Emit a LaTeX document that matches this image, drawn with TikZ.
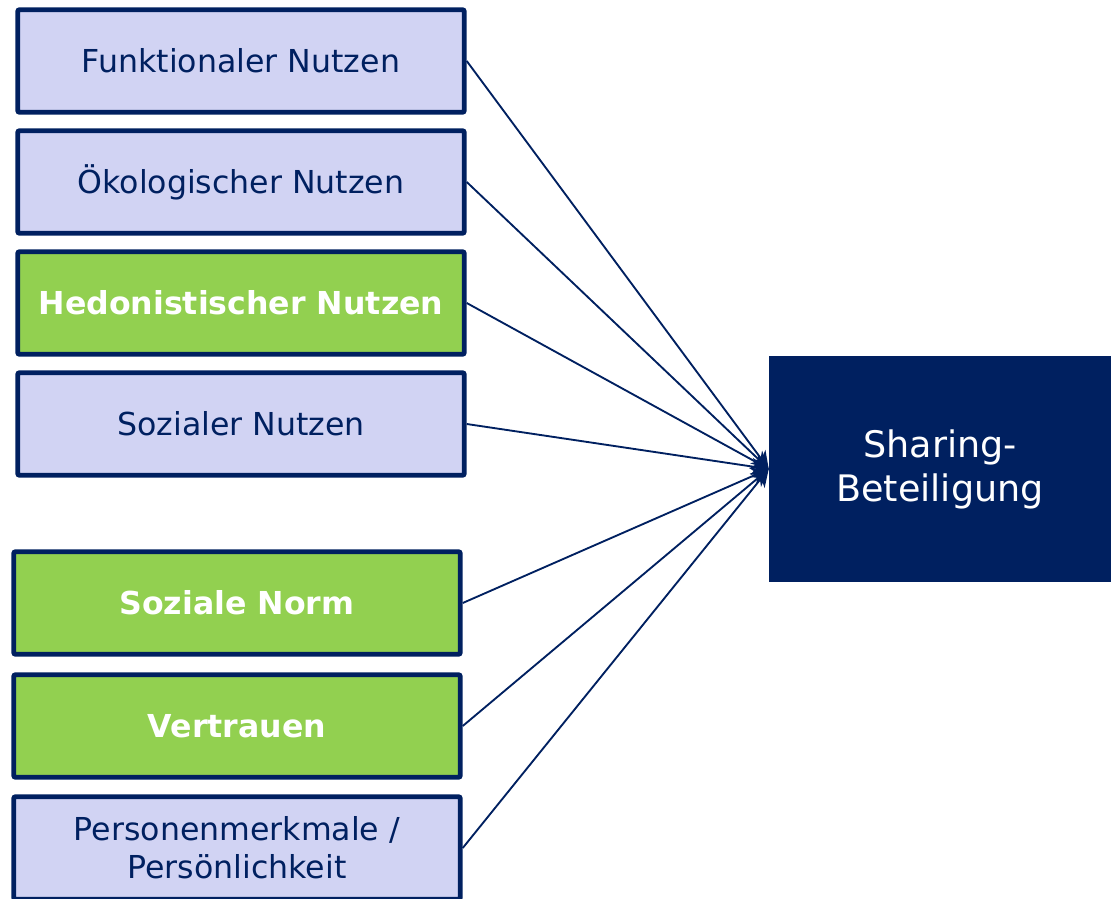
\documentclass[tikz,border=0pt]{standalone}
\usepackage{fontspec}
\setmainfont{DejaVu Sans}
\usetikzlibrary{arrows.meta}
\definecolor{navy}{RGB}{0,32,96}
\definecolor{lav}{RGB}{209,211,243}
\definecolor{grn}{RGB}{146,208,80}
\begin{document}
\begin{tikzpicture}[x=0.75pt,y=-0.75pt,
  factor/.style={draw=navy, line width=3.6pt, rounded corners=1.5pt,
    minimum width=335pt, minimum height=77pt, inner sep=0pt, align=center,
    font=\fontsize{23.7}{28.5}\selectfont},
  light/.style={factor, fill=lav, text=navy},
  strong/.style={factor, fill=grn, text=white,
    font=\fontsize{23.7}{28.5}\selectfont\bfseries},
  target/.style={fill=navy, text=white, minimum width=256.5pt,
    minimum height=169.5pt, inner sep=0pt, align=center,
    font=\fontsize{27.4}{33}\selectfont},
  link/.style={draw=navy, line width=1.4pt,
    -{Stealth[length=13pt,width=13pt,inset=4pt]}}]
  \clip (0,0) rectangle (1111,899);

  % influencing factors
  \node[light]  (fn) at (241,61)  {Funktionaler Nutzen};
  \node[light]  (ok) at (241,182) {Ökologischer Nutzen};
  \node[strong] (he) at (241,303) {Hedonistischer Nutzen};
  \node[light]  (so) at (241,424) {Sozialer Nutzen};
  \node[strong] (no) at (237,603) {Soziale Norm};
  \node[strong] (ve) at (237,726) {Vertrauen};
  \node[light]  (pm) at (237,848) {Personenmerkmale /\\Persönlichkeit};

  % outcome
  \node[target] (sb) at (940,469) {\raisebox{-4pt}{\parbox{250pt}{\centering Sharing-\\Beteiligung}}};

  % paths
  \foreach \n in {fn,ok,he,so,no,ve,pm}
    \draw[link] (\n.east) -- (sb.west);
\end{tikzpicture}
\end{document}
